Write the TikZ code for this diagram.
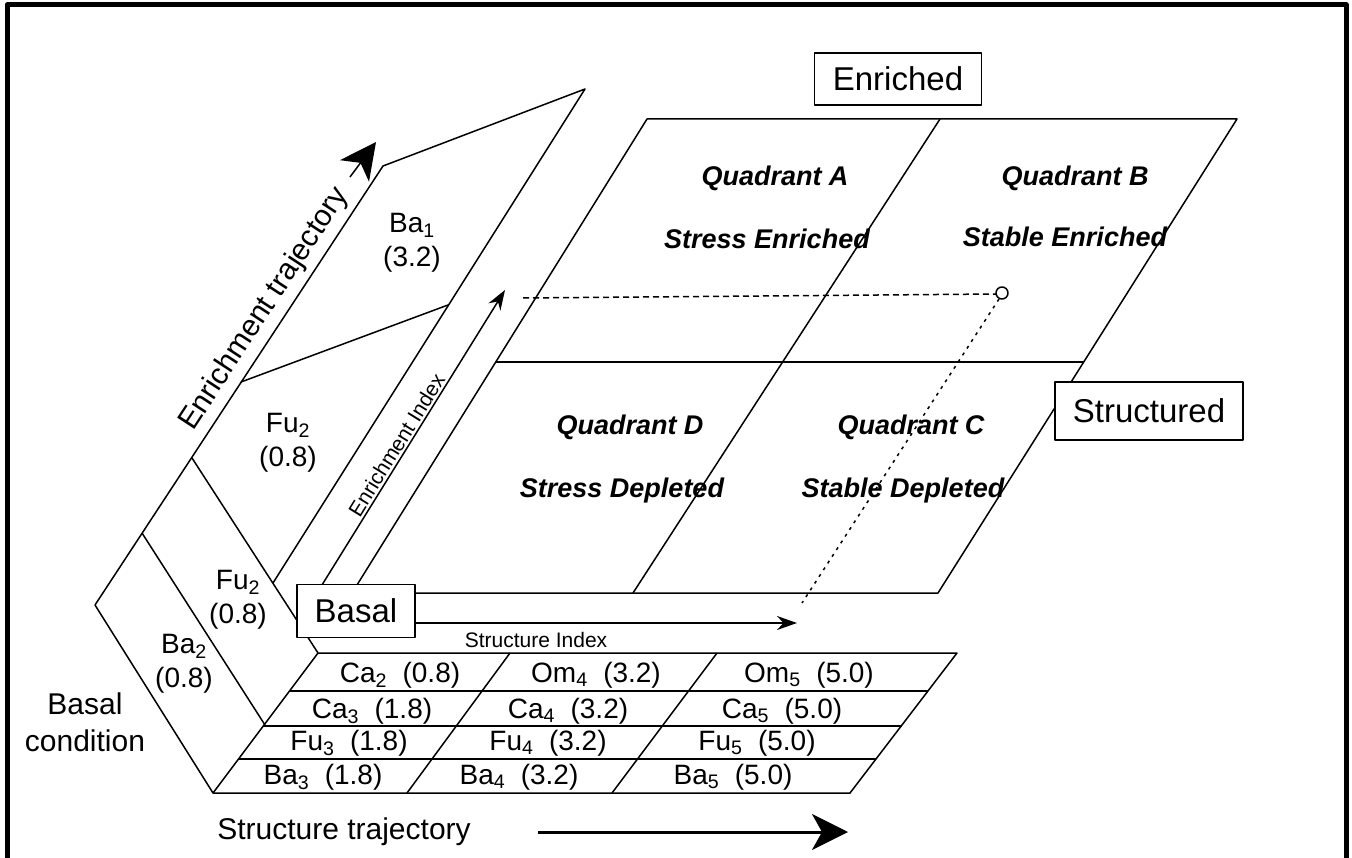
\documentclass[tikz,border=0pt]{standalone}
\usepackage{fontspec}
\setmainfont{Liberation Sans}
\usetikzlibrary{arrows.meta}

\begin{document}
\begin{tikzpicture}[x=1pt,y=-1pt,
  line width=1.5pt,line join=round,
  cell/.style={font=\fontsize{28}{34}\selectfont,align=center,inner sep=0pt},
  row/.style={font=\fontsize{28}{34}\selectfont,anchor=base,inner sep=0pt},
  quad/.style={font=\fontsize{27}{32}\selectfont\bfseries\itshape,anchor=base,inner sep=0pt},
  tag/.style={draw,fill=white,line width=1.8pt,font=\fontsize{33}{38}\selectfont,inner sep=0pt},
  idx/.style={font=\fontsize{21}{24}\selectfont,inner sep=2pt},
  traj/.style={font=\fontsize{30}{37}\selectfont,inner sep=0pt,align=center},
  smalltip/.style={-{Stealth[length=20pt,width=14pt]}},
  bigtip/.style={-{Stealth[length=36pt,width=36pt,inset=10pt]}}]
  \useasboundingbox (0,0) rectangle (1352,858);
  % frame
  \draw[line width=5pt] (7,858) -- (7,5) -- (1346,5) -- (1346,858);

  % enrichment slab
  \draw (95,605) -- (383,166) -- (585,89) -- (273,583);
  \draw (241,382) -- (448,305);
  \draw (192,458) -- (318,653);
  \draw (142,533) -- (265,725);
  \draw (95,605) -- (213,793);
  \path (95,605) -- node[traj,sloped,above=6pt,pos=0.648] (etraj) {Enrichment trajectory} (383,166);
  \draw[bigtip] (350,177) -- (376,142);

  % table
  \draw (213,793) -- (318,653) -- (957,653) -- (850,793) -- cycle;
  \draw (289,691) -- (928,691);
  \draw (263,726) -- (902,726);
  \draw (239,759) -- (876,759);
  \draw (407,793) -- (510,653);
  \draw (612,793) -- (717,653);

  % quadrant plane
  \draw (647,119) -- (1237,119) -- (938,593) -- (352,593) -- cycle;
  \draw (496,362) -- (1084,362);
  \draw (940,119) -- (633,593);
  \draw[dash pattern=on 6pt off 4pt] (523,298) -- (996,294);
  \draw[dash pattern=on 3pt off 5pt] (999,299) -- (802,603);
  \draw (1002,293) circle (6);

  % index arrows
  \draw[smalltip] (317,593) -- node[idx,sloped,above,pos=0.47] (eidx) {Enrichment Index} (505,290);
  \draw[smalltip] (330,623) -- (797,623);
  \node[idx] (sidx) at (536,640) {Structure Index};

  % slab cells
  \node[cell] (ba1) at (412,243) {Ba\textsubscript{1}\\(3.2)};
  \node[cell] (fu2a) at (288,443) {Fu\textsubscript{2}\\(0.8)};
  \node[cell] (fu2b) at (238,600) {Fu\textsubscript{2}\\(0.8)};
  \node[cell] (ba2) at (184,664) {Ba\textsubscript{2}\\(0.8)};

  % table cells
  \node[row] (ca2) at (400,682) {Ca\textsubscript{2}~~(0.8)};
  \node[row] (om4) at (596,682) {Om\textsubscript{4}~~(3.2)};
  \node[row] (om5) at (809,682) {Om\textsubscript{5}~~(5.0)};
  \node[row] (ca3) at (372,718) {Ca\textsubscript{3}~~(1.8)};
  \node[row] (ca4) at (568,718) {Ca\textsubscript{4}~~(3.2)};
  \node[row] (ca5) at (782,718) {Ca\textsubscript{5}~~(5.0)};
  \node[row] (fu3) at (349,750) {Fu\textsubscript{3}~~(1.8)};
  \node[row] (fu4) at (548,750) {Fu\textsubscript{4}~~(3.2)};
  \node[row] (fu5) at (757,750) {Fu\textsubscript{5}~~(5.0)};
  \node[row] (ba3) at (323,784) {Ba\textsubscript{3}~~(1.8)};
  \node[row] (ba4) at (519,784) {Ba\textsubscript{4}~~(3.2)};
  \node[row] (ba5) at (733,784) {Ba\textsubscript{5}~~(5.0)};

  % quadrant labels
  \node[quad] (qa) at (775,186) {Quadrant A};
  \node[quad] (sa) at (767,249) {Stress Enriched};
  \node[quad] (qb) at (1075,186) {Quadrant B};
  \node[quad] (sb) at (1065,247) {Stable Enriched};
  \node[quad] (qd) at (630,435) {Quadrant D};
  \node[quad] (sd) at (622,497) {Stress Depleted};
  \node[quad] (qc) at (911,435) {Quadrant C};
  \node[quad] (sc) at (903,497) {Stable Depleted};

  % boxes
  \node[tag,minimum width=118pt,minimum height=53pt] (basal) at (356,611) {Basal};
  \node[tag,minimum width=167pt,minimum height=52pt] (enriched) at (898,79) {Enriched};
  \node[tag,minimum width=188pt,minimum height=58pt] (structured) at (1149,411) {Structured};

  % trajectories
  \node[traj] (bcond) at (85,722) {Basal\\condition};
  \node[traj] (strtraj) at (344,832) {Structure trajectory};
  \draw[bigtip,line width=3pt] (538,832) -- (848,832);
\end{tikzpicture}
\end{document}
